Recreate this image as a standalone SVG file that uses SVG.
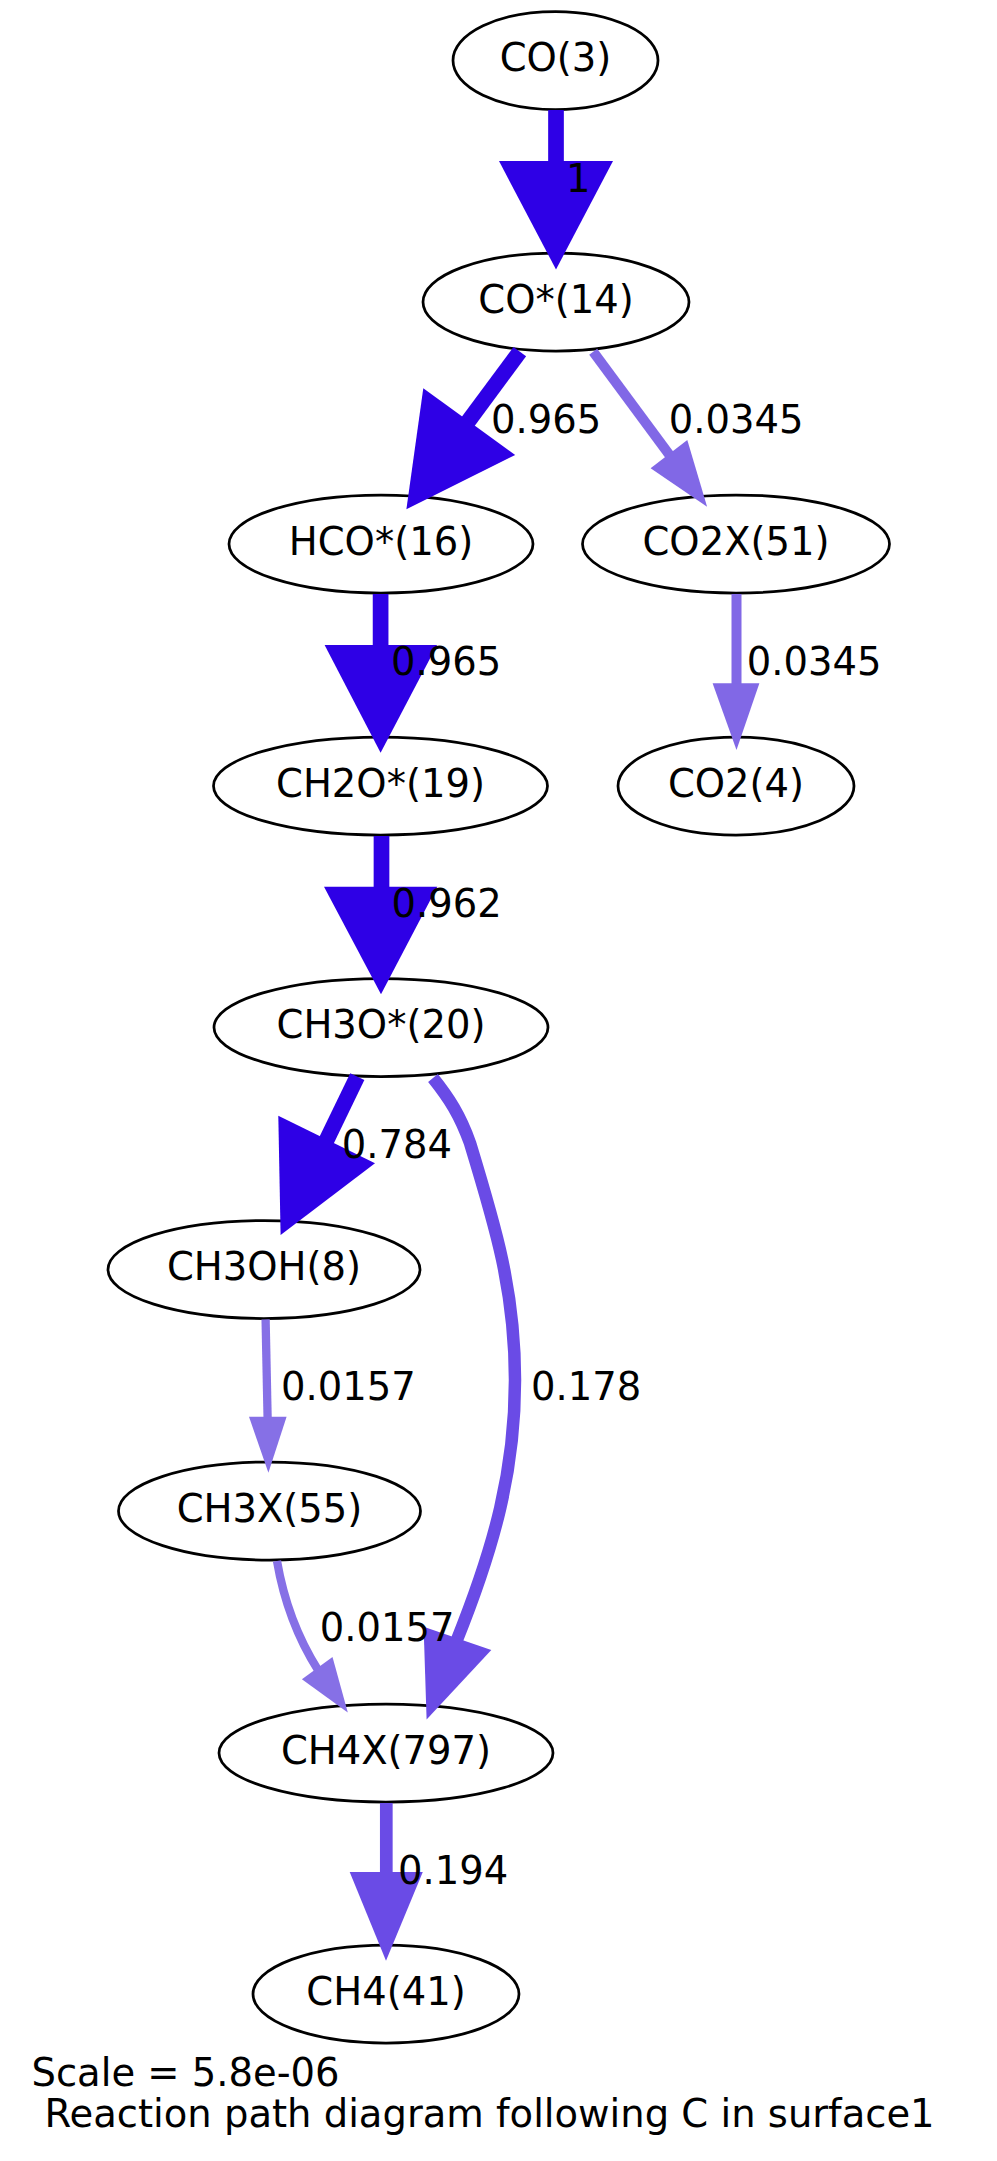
<svg xmlns="http://www.w3.org/2000/svg" width="997" height="2161" viewBox="0 0 997 2161">
<style>
.node ellipse{fill:none;stroke:#000;stroke-width:2.75}
.node text,.lbl,.foot{font-family:"DejaVu Sans","Liberation Sans",sans-serif;font-size:38.5px;fill:#000}
.node text{text-anchor:middle}
.dk{stroke:#2E00E6;fill:none;stroke-width:15.7}
.dkf{fill:#2E00E6}
.md{stroke:#6A4BE6;fill:none}
.mdf{fill:#6A4BE6}
.lt1{stroke:#8168E6;fill:none;stroke-width:10}
.lt1f{fill:#8168E6}
.lt2{stroke:#8670E6;fill:none;stroke-width:8.3}
.lt2f{fill:#8670E6}
</style>
<rect x="0" y="0" width="997" height="2161" fill="#fff"/>
<g id="n_CO3" class="node"><ellipse cx="555.5" cy="60.5" rx="102.5" ry="49"/><text x="555.5" y="71">CO(3)</text></g>
<g id="n_COs14" class="node"><ellipse cx="556" cy="302" rx="133" ry="49"/><text x="556" y="312.5">CO*(14)</text></g>
<g id="n_HCOs16" class="node"><ellipse cx="381" cy="544" rx="152" ry="49"/><text x="381" y="554.5">HCO*(16)</text></g>
<g id="n_CO2X51" class="node"><ellipse cx="736" cy="544" rx="153.5" ry="49"/><text x="736" y="554.5">CO2X(51)</text></g>
<g id="n_CH2Os19" class="node"><ellipse cx="380.5" cy="786" rx="167" ry="49"/><text x="380.5" y="796.5">CH2O*(19)</text></g>
<g id="n_CO24" class="node"><ellipse cx="736" cy="786" rx="118" ry="49"/><text x="736" y="796.5">CO2(4)</text></g>
<g id="n_CH3Os20" class="node"><ellipse cx="381" cy="1027.5" rx="167" ry="49"/><text x="381" y="1038">CH3O*(20)</text></g>
<g id="n_CH3OH8" class="node"><ellipse cx="264" cy="1269.5" rx="156" ry="49"/><text x="264" y="1280">CH3OH(8)</text></g>
<g id="n_CH3X55" class="node"><ellipse cx="269.5" cy="1511" rx="151" ry="49"/><text x="269.5" y="1521.5">CH3X(55)</text></g>
<g id="n_CH4X797" class="node"><ellipse cx="386" cy="1753" rx="167" ry="49"/><text x="386" y="1763.5">CH4X(797)</text></g>
<g id="n_CH441" class="node"><ellipse cx="386" cy="1994" rx="133" ry="49"/><text x="386" y="2004.5">CH4(41)</text></g>
<g id="connectors">
<g id="e1"><path class="dk" d="M556,110 L556,163"/><polygon class="dkf" points="499,161 613,161 556,269.5"/><text class="lbl" x="566" y="192">1</text></g>
<g id="e2"><path class="dk" d="M519.8,351.7 L467,423"/><polygon class="dkf" points="423.3,388.3 515.2,455 406.4,509.3"/><text class="lbl" x="491" y="433.3">0.965</text></g>
<g id="e3"><path class="lt1" d="M593.2,351.7 L671,457"/><polygon class="lt1f" points="650.6,468.3 687.3,440 707.1,506.7"/><text class="lbl" x="668.8" y="433.3">0.0345</text></g>
<g id="e4"><path class="dk" d="M380.6,594 L380.6,647"/><polygon class="dkf" points="324.6,645 437.1,645 380.6,752.7"/><text class="lbl" x="391" y="675">0.965</text></g>
<g id="e5"><path class="lt1" d="M736.5,594 L736.5,685"/><polygon class="lt1f" points="712.6,683.3 759.4,683.3 736.5,750"/><text class="lbl" x="746.8" y="675">0.0345</text></g>
<g id="e6"><path class="dk" d="M381.5,836 L381.5,889"/><polygon class="dkf" points="324,886.7 437.3,886.7 381,994.3"/><text class="lbl" x="391.5" y="916.7">0.962</text></g>
<g id="e7"><path class="dk" d="M357.3,1076.7 L325.7,1142"/><polygon class="dkf" points="278.3,1115.7 375,1163.3 280.6,1235"/><text class="lbl" x="341.8" y="1157.7">0.784</text></g>
<g id="e8"><path class="md" stroke-width="12.5" d="M433,1078 C449,1098 460,1115 470,1143 C495,1225 515,1290 515,1380 C515,1470 495,1545 456.5,1641"/><polygon class="mdf" points="423.6,1626.8 491.3,1650 426.6,1719.6"/><text class="lbl" x="531" y="1400">0.178</text></g>
<g id="e9"><path class="lt2" d="M265.6,1319.3 L267.6,1418"/><polygon class="lt2f" points="249,1416.7 286.6,1416.7 268.4,1472.7"/><text class="lbl" x="281" y="1400">0.0157</text></g>
<g id="e10"><path class="lt2" d="M277,1561 C283,1596 294,1632 318,1670"/><polygon class="lt2f" points="301.9,1679.3 332.5,1657.1 347.8,1712.5"/><text class="lbl" x="319.7" y="1641">0.0157</text></g>
<g id="e11"><path class="md" stroke-width="12.7" d="M386.3,1803 L386.3,1874"/><polygon class="mdf" points="349.7,1872 422.8,1872 386,1960.7"/><text class="lbl" x="398" y="1884">0.194</text></g>
</g>
<text class="foot" x="31.5" y="2086">Scale = 5.8e-06</text>
<text class="foot" x="44.5" y="2127.3">Reaction path diagram following C in surface1</text>
</svg>
